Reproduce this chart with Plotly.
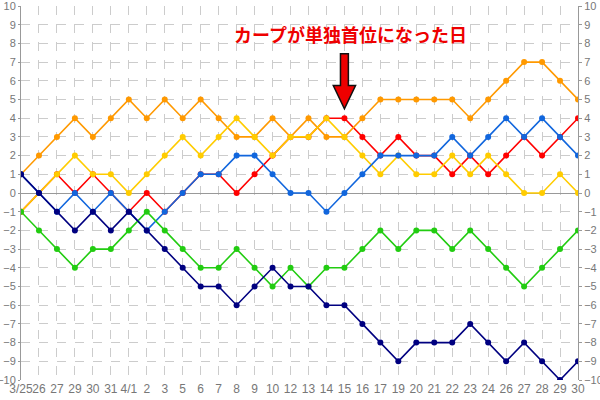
import plotly.graph_objects as go

dates = ["3/25", "26", "27", "29", "30", "31", "4/1", "2", "3", "5", "6", "7", "8", "9", "10",
         "12", "13", "14", "15", "16", "17", "19", "20", "21", "22", "23", "24", "26", "27",
         "28", "29", "30"]

carp = [-1, 0, 1, 0, 1, 0, -1, 0, -1, 0, 1, 1, 0, 1, 2, 3, 3, 4, 4, 3, 2, 3, 2, 2, 1, 2, 1, 2, 3, 2, 3, 4]
giants = [1, 2, 3, 4, 3, 4, 5, 4, 5, 4, 5, 4, 3, 3, 4, 3, 4, 3, 3, 4, 5, 5, 5, 5, 5, 4, 5, 6, 7, 7, 6, 5]
tigers = [-1, 0, 1, 2, 1, 1, 0, 1, 2, 3, 2, 3, 4, 3, 2, 3, 3, 4, 3, 2, 1, 2, 1, 1, 2, 1, 2, 1, 0, 0, 1, 0]
dragons = [1, 0, -1, 0, -1, 0, -1, -2, -1, 0, 1, 1, 2, 2, 1, 0, 0, -1, 0, 1, 2, 2, 2, 2, 3, 2, 3, 4, 3, 4, 3, 2]
swallows = [-1, -2, -3, -4, -3, -3, -2, -1, -2, -3, -4, -4, -3, -4, -5, -4, -5, -4, -4, -3, -2, -3, -2, -2, -3, -2, -3, -4, -5, -4, -3, -2]
baystars = [1, 0, -1, -2, -1, -2, -1, -2, -3, -4, -5, -5, -6, -5, -4, -5, -5, -6, -6, -7, -8, -9, -8, -8, -8, -7, -8, -9, -8, -9, -10, -9]

y_ticks = list(range(-10, 11))
annotation_text = "カープが単独首位になった日"

series = [
    ("広島", carp, "#ff0000"),
    ("巨人", giants, "#ff9900"),
    ("阪神", tigers, "#ffcc00"),
    ("中日", dragons, "#1166dd"),
    ("ヤクルト", swallows, "#22cc11"),
    ("DeNA", baystars, "#000080"),
]

xs = list(range(len(dates)))
fig = go.Figure()
for name, vals, col in series:
    fig.add_trace(go.Scatter(x=xs, y=vals, mode="lines+markers", name=name,
                             line=dict(color=col, width=1.6),
                             marker=dict(color=col, size=6), hoverinfo="skip"))
# invisible trace for the right axis
fig.add_trace(go.Scatter(x=[xs[0]], y=[0], yaxis="y2", mode="markers",
                         marker=dict(opacity=0), showlegend=False, hoverinfo="skip"))

xfont = dict(family="Liberation Sans, Arial, sans-serif", size=12, color="#777777")
yfont = dict(family="Liberation Sans, Arial, sans-serif", size=11, color="#777777")
fig.update_layout(
    width=600, height=400,
    margin=dict(l=21, r=22, t=6, b=20),
    paper_bgcolor="white", plot_bgcolor="white",
    showlegend=False,
    xaxis=dict(range=[0, len(dates) - 1], tickmode="array", tickvals=xs, ticktext=dates,
               tickangle=0, automargin=False,
               showgrid=True, gridcolor="#cccccc", griddash="dash", gridwidth=1,
               zeroline=False, showline=False, ticks="", tickfont=xfont, fixedrange=True),
    yaxis=dict(range=[-10, 10], tickmode="array", tickvals=y_ticks, automargin=False,
               ticklabeloverflow="allow",
               showgrid=True, gridcolor="#cccccc", griddash="dash", gridwidth=1,
               zeroline=True, zerolinecolor="#999999", zerolinewidth=1,
               showline=True, linecolor="#999999", linewidth=1,
               ticks="outside", ticklen=2, tickcolor="#999999", tickfont=yfont),
    yaxis2=dict(range=[-10, 10], tickmode="array", tickvals=y_ticks, overlaying="y", side="right",
                anchor="x", showgrid=False, zeroline=False, automargin=False,
                ticklabeloverflow="allow",
                showline=True, linecolor="#999999", linewidth=1,
                ticks="outside", ticklen=3, tickcolor="#999999", tickfont=yfont),
)

# block arrow pointing at the day Carp took sole first place
cx = 18
path = (f"M {cx-0.22},7.44 L {cx+0.22},7.44 L {cx+0.22},5.75 L {cx+0.62},5.75 "
        f"L {cx},4.5 L {cx-0.62},5.75 L {cx-0.22},5.75 Z")
fig.add_shape(type="path", path=path, xref="x", yref="y",
              fillcolor="#ee0000", line=dict(color="#111111", width=1.5))

fig.add_annotation(x=18.35, y=8.5, xref="x", yref="y", text=f"<b>{annotation_text}</b>",
                   showarrow=False,
                   font=dict(family="Noto Sans CJK JP", size=18, color="#ee0000"))

fig.write_html("out.html")
